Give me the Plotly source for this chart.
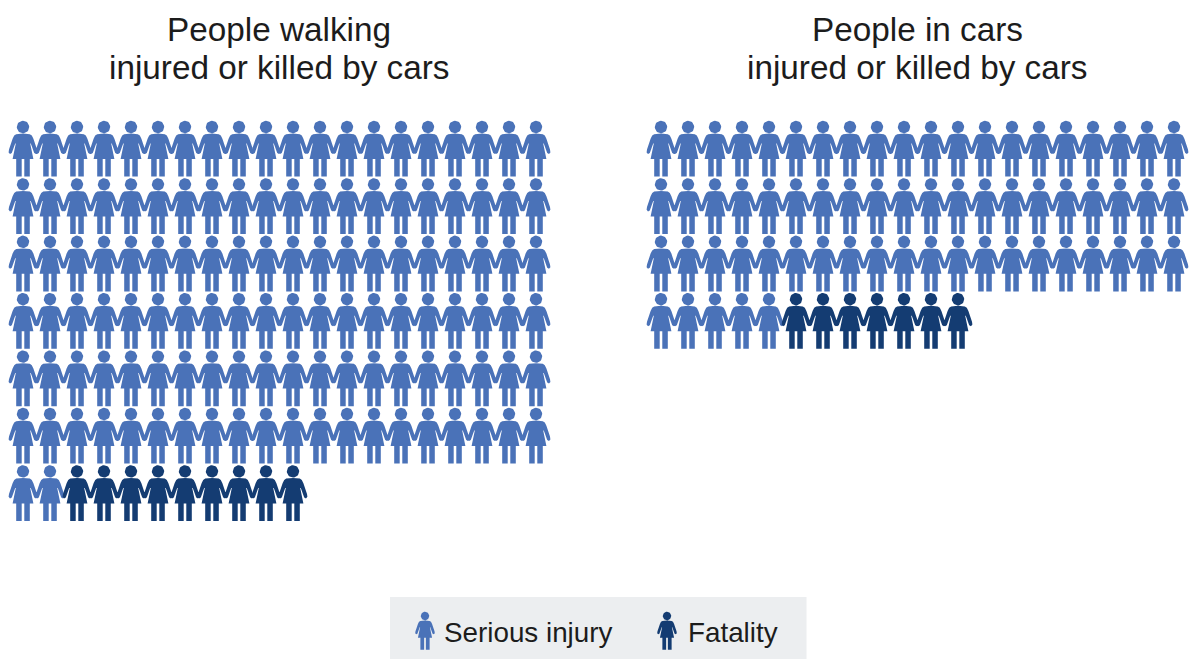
# pictogram: people injured or killed by cars
import numpy as np
import plotly.graph_objects as go

panel_titles = [
    ["People walking", "injured or killed by cars"],
    ["People in cars", "injured or killed by cars"],
]
serious_injuries = [122, 65]
fatalities = [9, 7]
legend_labels = ["Serious injury", "Fatality"]

PER_ROW = 20
COL_STEP = 27
ROW_STEP = 57.4
PANEL_X = [23, 661]
FIRST_ROW_Y = 127
INJURY_COLOR = "#4a72b8"
FATAL_COLOR = "#143c72"
TEXT_COLOR = "#1c1c1c"

# right half of the body outline, head centre at 0,0 and y pointing down
half_body = np.array([
    (0, 6.6), (4, 6.8), (6.8, 7.2), (8.8, 8.6), (10.4, 11.8), (14, 22.6), (14.4, 25.4), (13, 27), (11.2, 26),
    (7.8, 16.5), (7.2, 16.5), (10.4, 32), (6.8, 32), (6.8, 49.6), (1.3, 49.6), (1.3, 32), (0, 32),
])
body = np.vstack([half_body, half_body[::-1] * [-1, 1]])
theta = np.linspace(0, 2 * np.pi, 33)
head = np.column_stack([6.2 * np.cos(theta), 6.2 * np.sin(theta)])


def person_path(cx, cy, scale=1.0):
    xs, ys = [], []
    for part in (head, body):
        xs += list(cx + part[:, 0] * scale) + [None]
        ys += list(cy + part[:, 1] * scale) + [None]
    return xs, ys


def add_people(fig, positions, color, name, scale=1.0):
    xs, ys = [], []
    for cx, cy in positions:
        px, py = person_path(cx, cy, scale)
        xs += px
        ys += py
    fig.add_trace(go.Scatter(
        x=xs, y=ys, mode="lines", fill="toself", fillcolor=color,
        line=dict(color=color, width=0), name=name, hoverinfo="name", showlegend=False,
    ))


def grid_positions(start_x, first, count):
    out = []
    for i in range(first, first + count):
        out.append((start_x + (i % PER_ROW) * COL_STEP, FIRST_ROW_Y + (i // PER_ROW) * ROW_STEP))
    return out


fig = go.Figure()

for panel in range(2):
    n_inj = serious_injuries[panel]
    add_people(fig, grid_positions(PANEL_X[panel], 0, n_inj), INJURY_COLOR, legend_labels[0])
    add_people(fig, grid_positions(PANEL_X[panel], n_inj, fatalities[panel]), FATAL_COLOR, legend_labels[1])

# legend box with small people
add_people(fig, [(425, 616)], INJURY_COLOR, legend_labels[0], scale=0.68)
add_people(fig, [(667, 616)], FATAL_COLOR, legend_labels[1], scale=0.68)

fig.add_shape(type="rect", x0=390, x1=806.5, y0=597, y1=659, fillcolor="#eceef0", line_width=0, layer="below")

title_font = dict(family="Liberation Sans", size=33.3, color=TEXT_COLOR)
legend_font = dict(family="Liberation Sans", size=27.8, color=TEXT_COLOR)
for lines, x in zip(panel_titles, [279, 917.5]):
    for line, y in zip(lines, [29, 67]):
        fig.add_annotation(x=x, y=y, text=line, showarrow=False, font=title_font, xanchor="center", yanchor="middle")
for label, x in zip(legend_labels, [442, 686]):
    fig.add_annotation(x=x, y=632, text=label, showarrow=False, font=legend_font, xanchor="left", yanchor="middle")

fig.update_xaxes(range=[0, 1192], visible=False, fixedrange=True)
fig.update_yaxes(range=[659, 0], visible=False, fixedrange=True)
fig.update_layout(
    width=1192, height=659,
    margin=dict(l=0, r=0, t=0, b=0),
    paper_bgcolor="white", plot_bgcolor="white",
    showlegend=False,
)

# the page's default body margin would push the chart 8px off
fig.write_html("out.html", config=dict(displayModeBar=False), post_script="document.body.style.margin='0';")
